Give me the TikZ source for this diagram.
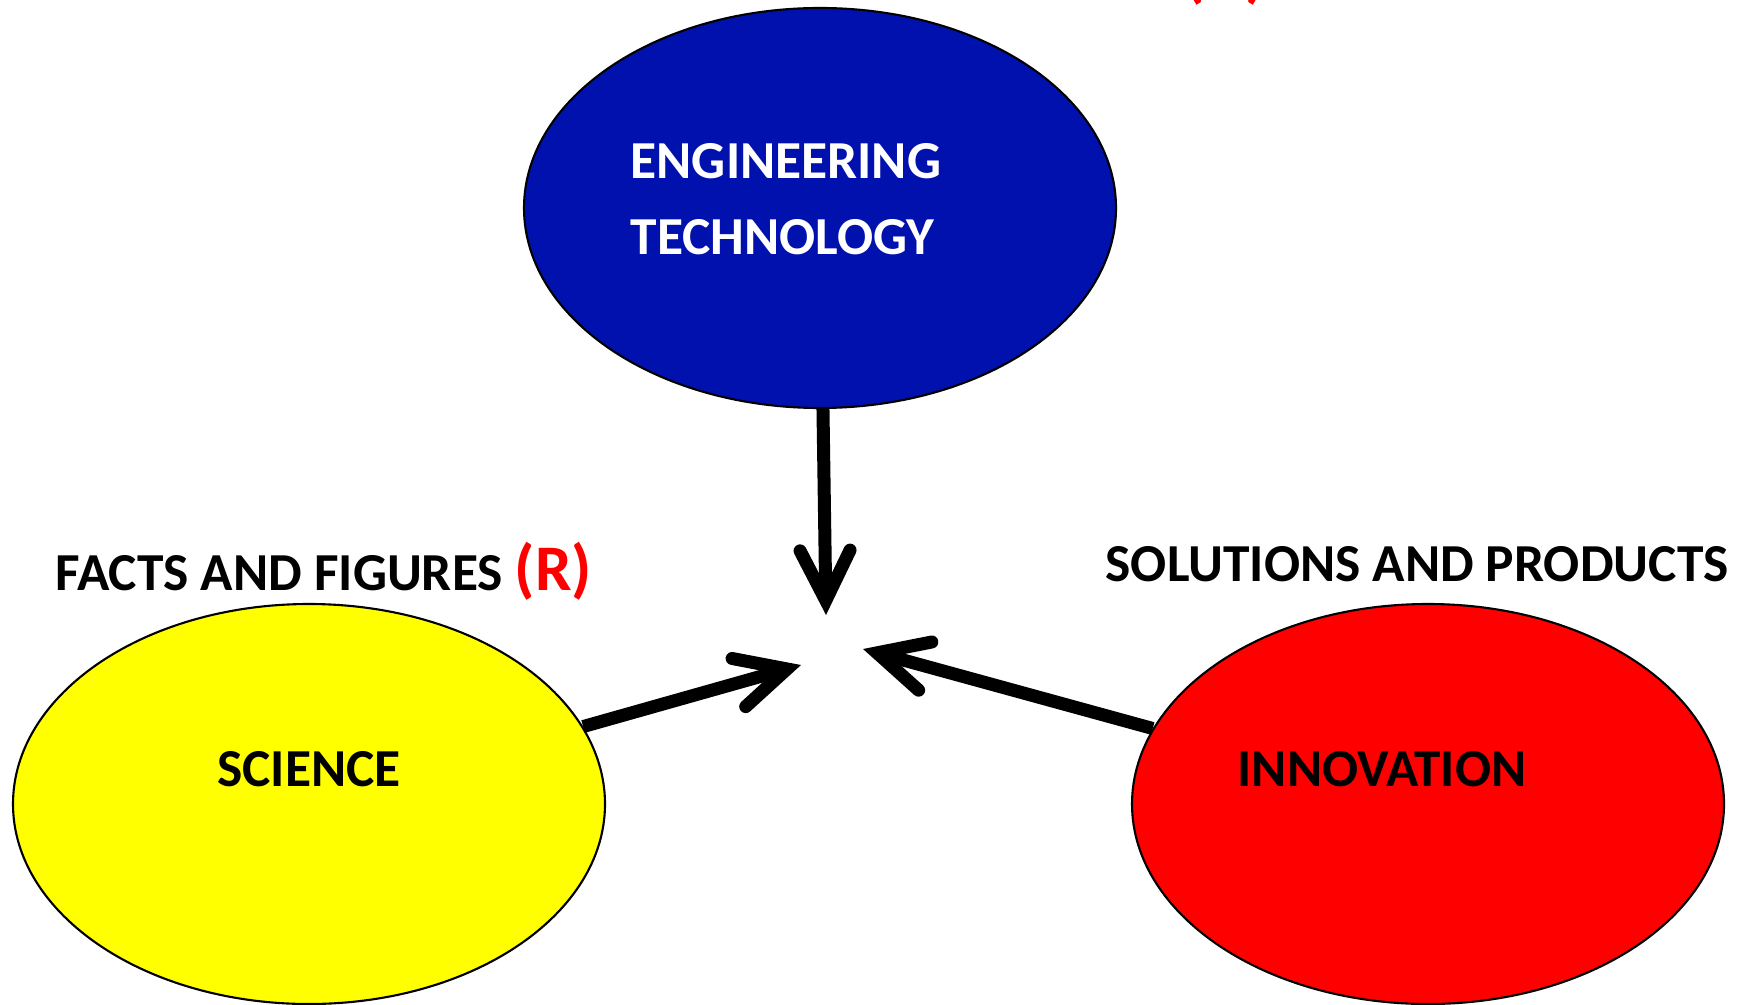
\documentclass[tikz,border=0pt]{standalone}
\usepackage{fontspec}
\setmainfont{Carlito}
\usepackage{xcolor}
\usepackage{tikz}
\usetikzlibrary{shapes,arrows,positioning,calc,arrows.meta}
\definecolor{engblue}{RGB}{0,17,174}
\definecolor{scyellow}{RGB}{255,255,0}
\definecolor{invred}{RGB}{255,0,0}
\begin{document}
\begin{tikzpicture}[
        blob/.style={ellipse, draw=black, line width=0.6pt, minimum width=5.92cm, minimum height=4cm, inner sep=0pt},
        lbl/.style={inner sep=0pt, font=\fontsize{15.2}{21.5}\selectfont\bfseries},
        bigarrow/.style={line width=1.3mm, -{Straight Barb[length=5mm, width=5mm, line cap=round, line join=miter]}}
    ]
        \useasboundingbox (0,0) rectangle (17.39,10.04);
        \node[blob, fill=engblue] (eng) at (8.20,7.96) {};
        \node[blob, fill=scyellow] (sci) at (3.09,2.00) {};
        \node[blob, fill=invred] (inn) at (14.28,2.00) {};
        
        \node[lbl, text=white, align=left, anchor=west] (engtxt) at (6.30,8.05) {ENGINEERING\\TECHNOLOGY};
        \node[lbl] (scitxt) at (3.09,2.35) {SCIENCE};
        \node[lbl] (inntxt) at (13.82,2.35) {INNOVATION};
        
        \node[lbl, anchor=base west] (facts) at (0.55,4.14) {FACTS AND FIGURES {\color{invred}\fontsize{18.5}{24}\selectfont(R)}};
        \node[lbl, anchor=base west] (sol) at (11.05,4.23) {SOLUTIONS AND PRODUCTS};
        \node[lbl, anchor=base west, text=invred] (toplbl) at (11.84,10.08) {\fontsize{18.5}{24}\selectfont(D)};
        
        \coordinate (tipE) at (8.26,3.89);
        \coordinate (tipS) at (8.01,3.39);
        \coordinate (tipI) at (8.63,3.55);
        \draw[bigarrow] (eng) -- (tipE);
        \draw[bigarrow] (sci) -- (tipS);
        \draw[bigarrow] (inn) -- (tipI);
    \end{tikzpicture}
\end{document}
